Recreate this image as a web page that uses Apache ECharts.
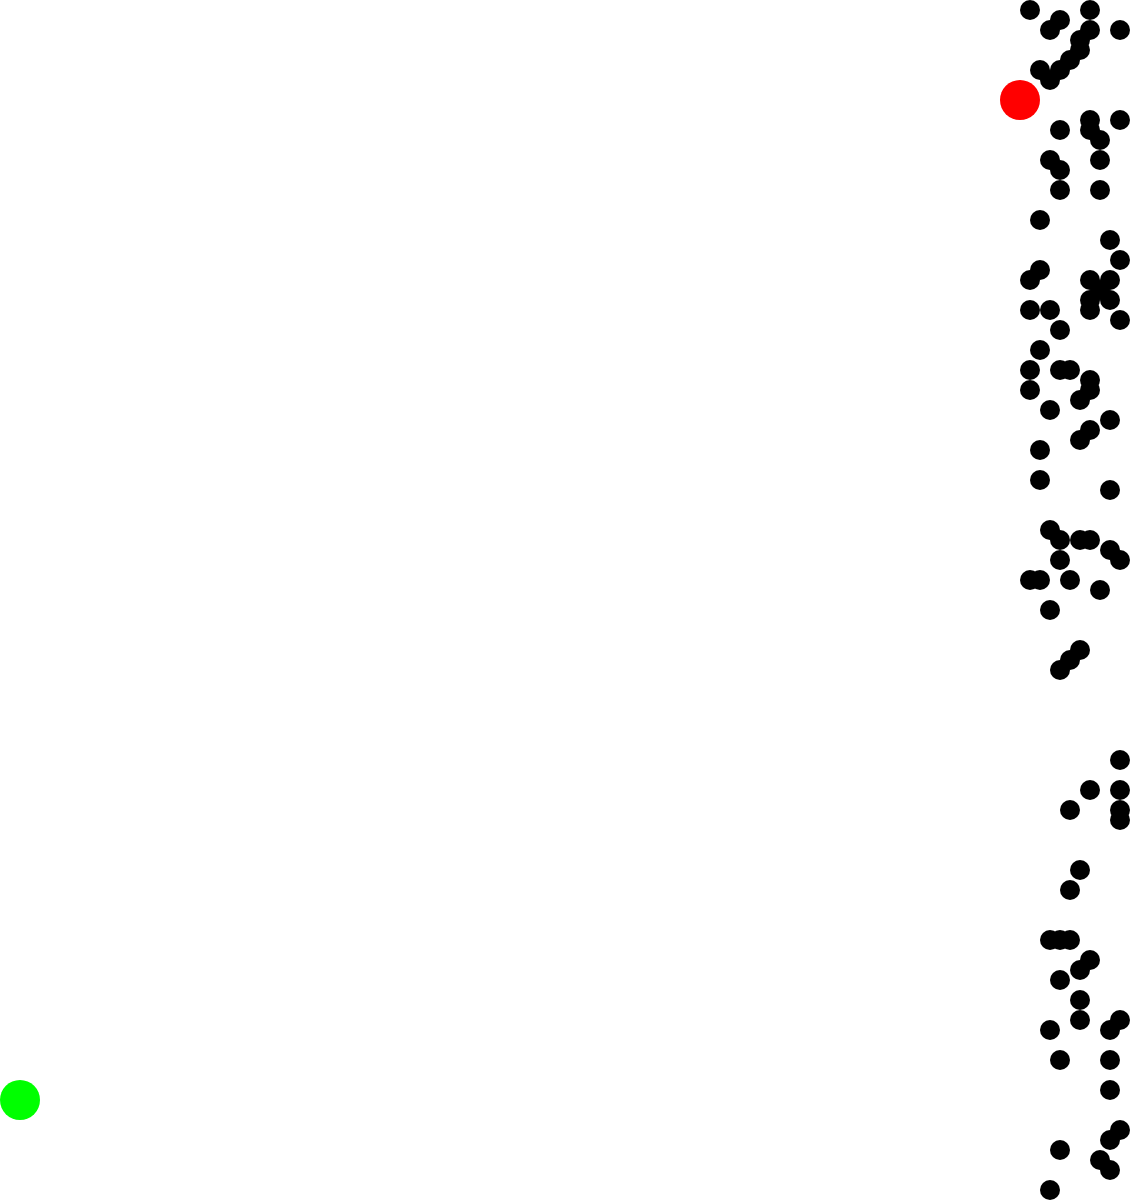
<!DOCTYPE html>
<html>
<head>
<meta charset="utf-8">
<script src="https://cdn.jsdelivr.net/npm/echarts@6/dist/echarts.min.js"></script>
<style>html,body{margin:0;padding:0;background:#fff}#chart{width:1132px;height:1202px}</style>
</head>
<body>
<div id="chart"></div>
<script>
// points as [column, row] on a 10px grid
var blackPoints = [
  [103,1],[106,2],[105,3],[109,1],[109,3],[112,3],[108,4],[108,5],[107,6],[106,7],[104,7],[105,8],
  [106,13],[109,12],[109,13],[110,14],[112,12],[105,16],[106,17],[110,16],[106,19],[110,19],
  [104,22],[111,24],[112,26],[104,27],[103,28],[109,28],[111,28],[109,30],[110,29],[111,30],
  [109,31],[103,31],[105,31],[112,32],[106,33],
  [104,35],[103,37],[106,37],[107,37],[109,38],[109,39],[108,40],[103,39],[105,41],[111,42],
  [109,43],[108,44],[104,45],[104,48],[111,49],[105,53],[106,54],[108,54],[109,54],[111,55],
  [112,56],[106,56],[103,58],[104,58],[107,58],[110,59],[105,61],[108,65],[107,66],[106,67],
  [112,76],[109,79],[112,79],[107,81],[112,81],[112,82],[108,87],[107,89],[105,94],[106,94],
  [107,94],[109,96],[108,97],[106,98],[108,100],[108,102],[112,102],[111,103],[105,103],
  [106,106],[111,106],[111,109],[112,113],[111,114],[106,115],[110,116],[111,117],[105,119]
];
var redPoints = [[102,10]];
var greenPoints = [[2,110]];

var chart = echarts.init(document.getElementById('chart'));
var option = {
  animation: false,
  grid: { left: 0, right: 0, top: 0, bottom: 0 },
  xAxis: { type: 'value', min: 0, max: 113.2, show: false },
  yAxis: { type: 'value', min: 0, max: 120.2, inverse: true, show: false },
  series: [
    { type: 'scatter', data: blackPoints, symbolSize: 20, itemStyle: { color: '#000', opacity: 1 } },
    { type: 'scatter', data: redPoints, symbolSize: 40, itemStyle: { color: '#ff0000', opacity: 1 } },
    { type: 'scatter', data: greenPoints, symbolSize: 40, itemStyle: { color: '#00ff00', opacity: 1 } }
  ]
};
chart.setOption(option);
</script>
</body>
</html>
